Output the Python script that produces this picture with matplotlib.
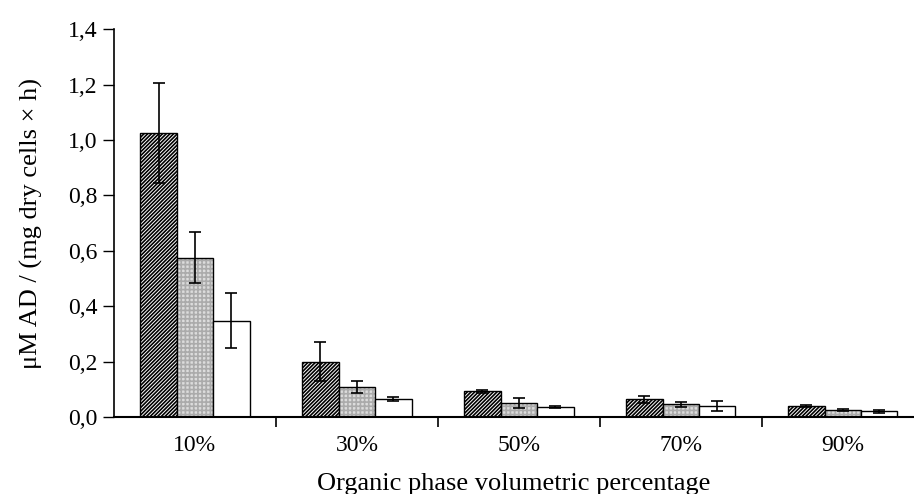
import numpy as np
import matplotlib
matplotlib.use("Agg")
import matplotlib.pyplot as plt
from matplotlib.ticker import FixedLocator

plt.rcParams['font.family'] = ['Liberation Serif', 'DejaVu Serif']
plt.rcParams['hatch.linewidth'] = 1.2

groups = ["10%", "30%", "50%", "70%", "90%"]
# three series per group (hatched, grey, white)
vals_a = [1.025, 0.20, 0.092, 0.063, 0.040]
errs_a = [0.180, 0.070, 0.006, 0.012, 0.004]
vals_b = [0.575, 0.108, 0.050, 0.045, 0.025]
errs_b = [0.093, 0.023, 0.018, 0.010, 0.002]
vals_c = [0.348, 0.064, 0.037, 0.040, 0.020]
errs_c = [0.100, 0.008, 0.003, 0.018, 0.004]

fig = plt.figure(figsize=(9.14, 4.94), dpi=100)
ax = fig.add_axes([0.1247, 0.156, 0.8753, 0.785])

x = np.arange(len(groups))
w = 0.225
ekw = dict(ecolor="black", elinewidth=1.2, capsize=4.5, capthick=1.2)

ax.bar(x - w, vals_a, w, facecolor="white", edgecolor="black", hatch="/" * 9, linewidth=0)
ax.bar(x - w, vals_a, w, fill=False, edgecolor="black", linewidth=1.0, yerr=errs_a, error_kw=ekw)

ax.bar(x, vals_b, w, facecolor="#dcdcdc", edgecolor="#ababab", hatch="++++", linewidth=0)
ax.bar(x, vals_b, w, fill=False, edgecolor="black", linewidth=1.0, yerr=errs_b, error_kw=ekw)

ax.bar(x + w, vals_c, w, facecolor="white", edgecolor="black", linewidth=1.0, yerr=errs_c, error_kw=ekw)

ax.set_xlim(-0.5, 4.44)
ax.set_ylim(0, 1.4)
ax.set_yticks(np.arange(0, 1.41, 0.2))
ax.set_yticklabels([f"{v:.1f}".replace(".", ",") for v in np.arange(0, 1.41, 0.2)])

ax.xaxis.set_major_locator(FixedLocator([0.5, 1.5, 2.5, 3.5]))
ax.xaxis.set_minor_locator(FixedLocator(list(x)))
ax.set_xticklabels([], minor=False)
ax.set_xticklabels(groups, minor=True)
ax.tick_params(axis="x", which="major", length=7, width=1.2, direction="out")
ax.tick_params(axis="x", which="minor", length=0, pad=13, labelsize=17)
ax.tick_params(axis="y", length=8, width=1.0, direction="out", labelsize=17, pad=4)

for s in ["top", "right"]:
    ax.spines[s].set_visible(False)
ax.spines["left"].set_linewidth(1.2)
ax.spines["bottom"].set_linewidth(1.5)

ax.set_ylabel("μM AD / (mg dry cells × h)", fontsize=19, labelpad=18)
ax.set_xlabel("Organic phase volumetric percentage", fontsize=19, labelpad=12)

fig.savefig("out.png", dpi=100)
